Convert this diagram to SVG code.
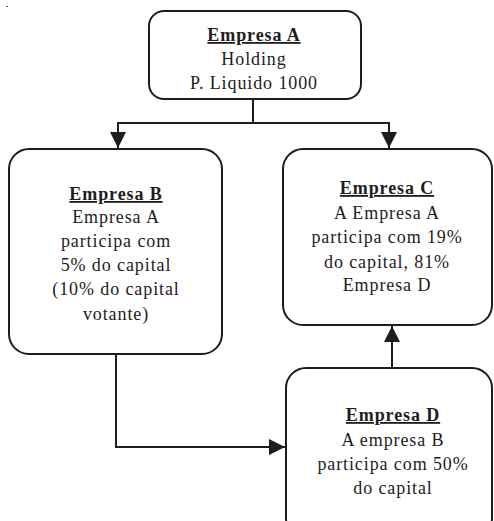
<svg xmlns="http://www.w3.org/2000/svg" width="494" height="521" viewBox="0 0 494 521">
  <style>
    .box { fill: #ffffff; stroke: #1e1c1c; stroke-width: 2; }
    .t { font-family: "Liberation Serif", "Times New Roman", serif; font-size: 18px; fill: #1e1c1c; text-anchor: middle; letter-spacing: 0.9px; }
    .h { font-weight: bold; text-decoration: underline; }
    .conn { fill: none; stroke: #1e1c1c; stroke-width: 2; }
  </style>
  <defs>
    <marker id="arr" viewBox="0 0 16 16" refX="16" refY="8" markerWidth="16" markerHeight="16" markerUnits="userSpaceOnUse" orient="auto">
      <path d="M0,0 L16,8 L0,16 Z" fill="#1e1c1c"/>
    </marker>
  </defs>
  <rect x="6" y="6" width="2" height="1" fill="#555"/>
  <g id="connectors">
    <polyline class="conn" points="253,99 253,123 118,123 118,148" marker-end="url(#arr)"/>
    <polyline class="conn" points="253,123 389,123 389,148" marker-end="url(#arr)"/>
    <polyline class="conn" points="116,354 116,447 285,447" marker-end="url(#arr)"/>
    <polyline class="conn" points="392,368 392,326" marker-end="url(#arr)"/>
  </g>
  <g id="nodeA">
    <rect class="box" x="149" y="11" width="212" height="88" rx="15"/>
    <text class="t h" x="254" y="41">Empresa A</text>
    <text class="t" x="254" y="65">Holding</text>
    <text class="t" x="254" y="89">P. Liquido 1000</text>
  </g>
  <g id="nodeB">
    <rect class="box" x="9" y="149" width="213" height="205" rx="20"/>
    <text class="t h" x="116" y="200">Empresa B</text>
    <text class="t" x="116" y="223">Empresa A</text>
    <text class="t" x="116" y="247">participa com</text>
    <text class="t" x="116" y="271">5% do capital</text>
    <text class="t" x="116" y="295">(10% do capital</text>
    <text class="t" x="116" y="320">votante)</text>
  </g>
  <g id="nodeC">
    <rect class="box" x="283" y="149" width="209" height="176" rx="20"/>
    <text class="t h" x="387" y="194">Empresa C</text>
    <text class="t" x="387" y="219">A Empresa A</text>
    <text class="t" x="387" y="243">participa com 19%</text>
    <text class="t" x="387" y="268">do capital, 81%</text>
    <text class="t" x="387" y="291">Empresa D</text>
  </g>
  <g id="nodeD">
    <rect class="box" x="286" y="368" width="206" height="170" rx="20"/>
    <text class="t h" x="393" y="421">Empresa D</text>
    <text class="t" x="393" y="446">A empresa B</text>
    <text class="t" x="393" y="470">participa com 50%</text>
    <text class="t" x="393" y="494">do capital</text>
  </g>
</svg>
